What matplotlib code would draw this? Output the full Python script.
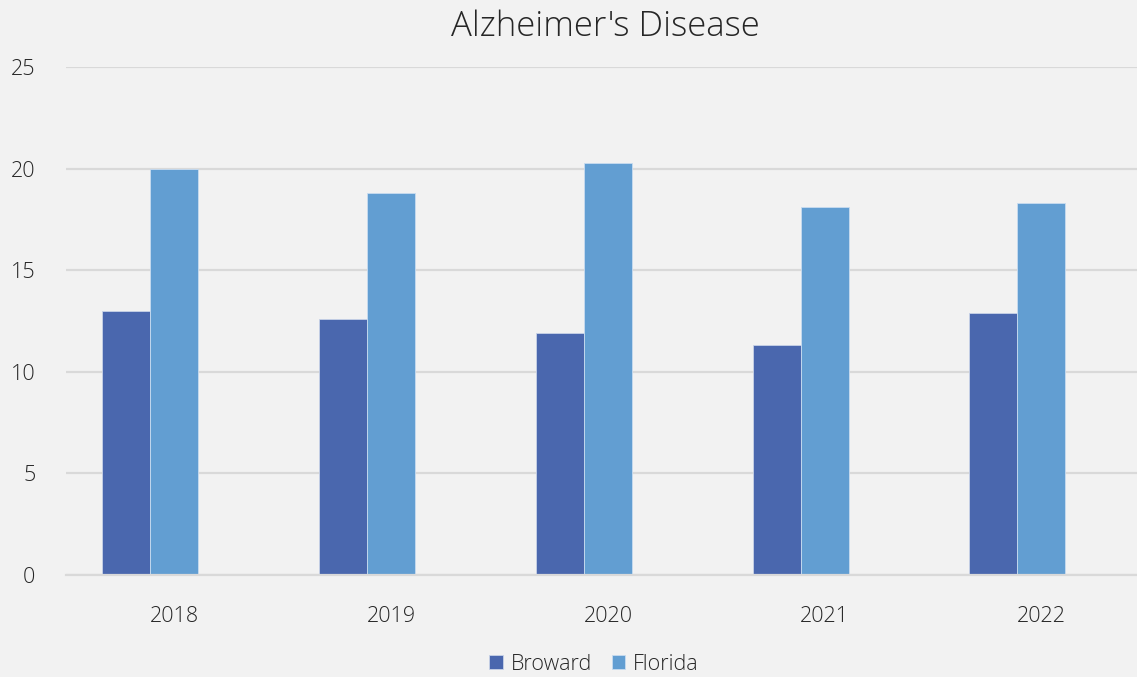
import numpy as np
import matplotlib.pyplot as plt

years = ['2018', '2019', '2020', '2021', '2022']
broward = [13.0, 12.6, 11.9, 11.3, 12.9]
florida = [20.0, 18.8, 20.3, 18.1, 18.3]

bg = '#F2F2F2'
grid_c = '#D9D9D9'
txt_c = '#262626'
plt.rcParams['font.family'] = ['Open Sans', 'DejaVu Sans']

fig = plt.figure(figsize=(11.37, 6.77), dpi=100, facecolor=bg)
ax = fig.add_axes([66/1137, 102/677, 1071/1137, 508/677], facecolor=bg)

x = np.arange(len(years))
w = 0.2215
ax.bar(x - w, broward, w, color='#4A67AE', edgecolor='#C9D3E8', lw=0.6, label='Broward', zorder=3)
ax.bar(x, florida, w, color='#629ED2', edgecolor='#C9DCF0', lw=0.6, label='Florida', zorder=3)

ax.set_xlim(-0.5, 4.441)
ax.set_ylim(0, 25)
ax.set_yticks([0, 5, 10, 15, 20, 25])
ax.set_xticks(x)
ax.set_xticklabels(years)
ax.yaxis.grid(True, color=grid_c, lw=1.6, zorder=0)
ax.set_axisbelow(True)
for s in ['top', 'right', 'left']:
    ax.spines[s].set_visible(False)
ax.spines['bottom'].set_color(grid_c)
ax.spines['bottom'].set_linewidth(1.6)
ax.spines['bottom'].set_zorder(4)
ax.tick_params(axis='both', length=0, labelsize=15.5, labelcolor=txt_c)
ax.tick_params(axis='y', pad=22)
ax.tick_params(axis='x', pad=22)
for t in ax.get_xticklabels() + ax.get_yticklabels():
    t.set_fontweight('light')

fig.text(605/1137, 1 - 27/677, "Alzheimer's Disease", ha='center', va='center',
         fontsize=25, color=txt_c, fontweight='light')

leg = fig.legend(loc='center', bbox_to_anchor=(594/1137, 1 - 664/677), ncol=2,
                 frameon=False, fontsize=15.5, handlelength=0.65, handleheight=0.65,
                 handletextpad=0.35, columnspacing=0.9)
for t in leg.get_texts():
    t.set_color(txt_c)
    t.set_fontweight('light')

fig.savefig('out.png', dpi=100, facecolor=bg)
